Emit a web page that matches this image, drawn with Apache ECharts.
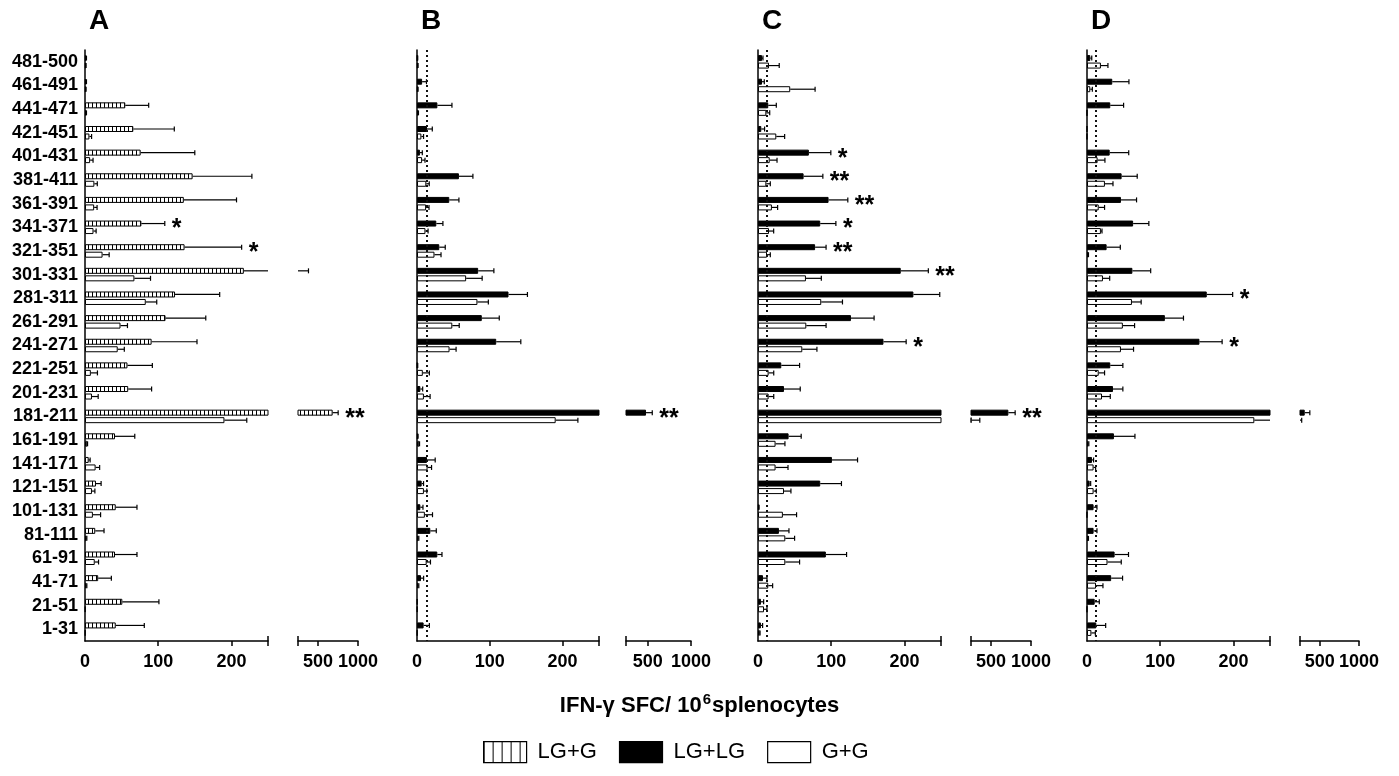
<!DOCTYPE html>
<html>
<head>
<meta charset="utf-8">
<title>IFN-gamma SFC</title>
<script src="https://cdn.jsdelivr.net/npm/echarts@6/dist/echarts.min.js"></script>
<style>
  html, body { margin: 0; padding: 0; background: #fff; }
  #chart { width: 1399px; height: 776px; }
</style>
</head>
<body>
<div id="chart"></div>
<script>
// peptide pools, top to bottom
var categories = ['481-500', '461-491', '441-471', '421-451', '401-431', '381-411', '361-391', '341-371',
  '321-351', '301-331', '281-311', '261-291', '241-271', '221-251', '201-231', '181-211', '161-191',
  '141-171', '121-151', '101-131', '81-111', '61-91', '41-71', '21-51', '1-31'];

// panel A: LG+G
var lgG_A = [1, 1, 55, 66, 76, 147, 135, 77, 136, 217, 123, 110, 91, 58, 59, 683, 41, 5, 15, 42, 14, 41, 18, 51, 42];
var lgG_A_err = [1, 1, 32, 56, 74, 81, 72, 32, 78, 164, 61, 55, 62, 34, 32, 69, 27, 2, 7, 29, 12, 30, 18, 50, 39];
// G+G control shared by panels A and B
var gg_AB = [1, 1, 1.5, 6, 7, 12.8, 12.5, 11.6, 24, 67.5, 83, 48.5, 44.7, 8, 9.5, 190.5, 3, 14.5, 9.5, 10.8, 2, 13.3, 2, 0.5, 0.5];
var gg_AB_err = [0.5, 0.5, 0.5, 3, 4, 4, 4, 3.6, 9, 22, 15, 9.5, 9, 9, 8.5, 30.5, 0.5, 5.5, 4, 10.5, 0.5, 5.2, 0.5, 0, 0];
// panel B: LG+LG
var lgLG_B = [0.5, 7, 28, 13.7, 4, 57.6, 44.3, 26.5, 30.6, 84, 125.7, 89, 108.8, 0.5, 4.6, 481, 1, 13.7, 6.4, 4.6, 18.3, 27.9, 5.5, 0.5, 9.1];
var lgLG_B_err = [0.5, 6, 20, 7.3, 3.3, 19.2, 13.3, 9.1, 8.2, 21.6, 26, 24, 33.8, 0.5, 3.2, 72, 0.5, 11.3, 2.6, 3.6, 8.2, 6.4, 3.6, 0, 7.9];
// panel C
var lgLG_C = [5.5, 5.5, 14, 4.5, 69.5, 62.3, 96.4, 85, 78, 195, 212.3, 127, 171.4, 31.8, 35.5, 717, 41.8, 101, 85, 1, 28.6, 92.7, 6.8, 4, 4];
var lgLG_C_err = [1.3, 3.1, 11, 4.5, 30, 26.3, 26.3, 21.4, 15, 37.7, 36, 31.6, 31, 25, 22.2, 85, 17.2, 35, 29, 0.5, 13.7, 28.3, 5.5, 3.7, 2.3];
var gg_C = [15, 44, 11.4, 25, 16, 11.4, 19, 15, 12.3, 65.5, 86.4, 66, 60.5, 14.5, 14.5, 258, 24, 24, 35.5, 34, 37.3, 37.3, 14, 8.2, 2.3];
var gg_C_err = [14, 34, 4.6, 11.4, 10, 5.4, 7.8, 6.4, 4.5, 21, 29, 27, 20, 7, 7, 102, 12.8, 17, 9.5, 18.7, 12.7, 19.5, 6, 4.1, 0.5];
// panel D
var lgLG_D = [4.5, 34.5, 31.8, 0, 31, 47.3, 46.4, 63, 26.8, 62, 163.6, 106.4, 153.6, 31.8, 35.5, 310, 36.8, 6.8, 3.6, 9, 9, 37.7, 33, 10.5, 12.7];
var lgLG_D_err = [2, 22.8, 18.2, 0, 26, 21.3, 21.3, 21.5, 18.7, 25, 35.4, 25.4, 31, 17.2, 13.5, 65, 28.7, 2.2, 1.4, 4.6, 4.6, 19, 15.6, 6.3, 12.8];
var gg_D = [19, 4.5, 0, 0, 14.5, 24.5, 16, 19, 1.5, 21.8, 61.4, 49, 46.4, 16, 20.5, 228.6, 2, 9, 9, 0, 1.5, 28, 12.3, 0, 6];
var gg_D_err = [9.6, 2.8, 0, 0, 10, 11, 8, 1.5, 0.5, 9.2, 12.6, 16, 17.2, 8, 11.3, 43, 0.5, 2.8, 3.7, 0, 0.5, 18.8, 9.5, 0, 5.4];

// significance marks
var starsA = [['341-371', '*'], ['321-351', '*'], ['181-211', '**']];
var starsB = [['181-211', '**']];
var starsC = [['401-431', '*'], ['381-411', '**'], ['361-391', '**'], ['341-371', '*'], ['321-351', '**'],
  ['301-331', '**'], ['241-271', '*'], ['181-211', '**']];
var starsD = [['281-311', '*'], ['241-271', '*']];

// positivity cut-off (dotted line)
var cutoffs = { A: null, B: 13, C: 12, D: 12 };

// broken x axis
var leftMax = 250, rightMax = 1000;
var leftTicks = [0, 100, 200];
var rightTicks = [500, 1000];

var FONT = 'Liberation Sans';
var LANE = 3.75;

function makeHatch(step) {
  var c = document.createElement('canvas');
  c.width = step; c.height = 10;
  var ctx = c.getContext('2d');
  ctx.fillStyle = '#fff';
  ctx.fillRect(0, 0, step, 10);
  ctx.fillStyle = '#000';
  ctx.fillRect(0, 0, 1, 10);
  return c;
}
var hatchBar = { image: makeHatch(4), repeat: 'repeat' };
var hatchLegend = { image: makeHatch(9), repeat: 'repeat' };

var panels = [
  { key: 'A', left: 85, w: 183, rLeft: 298, rW: 60, top: { name: 'LG+G', v: lgG_A, e: lgG_A_err }, bot: { v: gg_AB, e: gg_AB_err }, stars: starsA },
  { key: 'B', left: 417, w: 182, rLeft: 626, rW: 65, top: { name: 'LG+LG', v: lgLG_B, e: lgLG_B_err }, bot: { v: gg_AB, e: gg_AB_err }, stars: starsB },
  { key: 'C', left: 758, w: 183, rLeft: 971, rW: 60, top: { name: 'LG+LG', v: lgLG_C, e: lgLG_C_err }, bot: { v: gg_C, e: gg_C_err }, stars: starsC },
  { key: 'D', left: 1087, w: 183, rLeft: 1300, rW: 59, top: { name: 'LG+LG', v: lgLG_D, e: lgLG_D_err }, bot: { v: gg_D, e: gg_D_err }, stars: starsD }
];

var styles = {
  'LG+G': { color: hatchBar, borderColor: '#000', borderWidth: 1 },
  'LG+LG': { color: '#000', borderColor: '#000', borderWidth: 1 },
  'G+G': { color: '#fff', borderColor: '#000', borderWidth: 1 }
};

var grids = [], xAxes = [], yAxes = [], series = [], titles = [];

function errorSeries(g, p) {
  var items = [];
  var starMap = {};
  p.stars.forEach(function (s) { starMap[s[0]] = s[1]; });
  categories.forEach(function (c, i) {
    items.push({ value: [i, p.top.v[i], p.top.e[i], 0], star: starMap[c] || '' });
    items.push({ value: [i, p.bot.v[i], p.bot.e[i], 1], star: '' });
  });
  return {
    type: 'custom', name: 'err' + g, xAxisIndex: g, yAxisIndex: g, silent: true, z: 3,
    data: items,
    renderItem: function (params, api) {
      var cs = params.coordSys;
      var cat = api.value(0), m = api.value(1), e = api.value(2), lane = api.value(3);
      var p0 = api.coord([m, cat]);
      var p1 = api.coord([m + e, cat]);
      var y = p0[1] + (lane === 0 ? -LANE : LANE);
      var xl = Math.max(p0[0], cs.x), xr = Math.min(p1[0], cs.x + cs.width);
      var endIn = p1[0] >= cs.x && p1[0] <= cs.x + cs.width + 0.5;
      var kids = [];
      var ls = { stroke: '#000', lineWidth: 1.2 };
      if (e > 0 && xr > xl) {
        kids.push({ type: 'line', shape: { x1: xl, y1: y, x2: xr, y2: y }, style: ls });
      }
      if (e > 0 && endIn) {
        kids.push({ type: 'line', shape: { x1: p1[0], y1: y - 2.5, x2: p1[0], y2: y + 2.5 }, style: ls });
      }
      var star = items[params.dataIndex].star;
      if (star && endIn) {
        kids.push({ type: 'text', style: { x: p1[0] + 7, y: y + 6, text: star, fill: '#000',
          font: 'bold 25px ' + FONT, textAlign: 'left', textVerticalAlign: 'middle' } });
      }
      return { type: 'group', children: kids };
    }
  };
}

function capSeries(g, atRight) {
  return {
    type: 'custom', name: 'cap' + g, xAxisIndex: g, yAxisIndex: g, silent: true,
    data: [[0, 0]],
    renderItem: function (params) {
      var cs = params.coordSys;
      var x = atRight ? cs.x + cs.width : cs.x;
      var yb = cs.y + cs.height;
      return { type: 'line', shape: { x1: x, y1: yb - 5, x2: x, y2: yb + 5 }, style: { stroke: '#000', lineWidth: 1.5 } };
    }
  };
}

panels.forEach(function (p, pi) {
  titles.push({ text: p.key, left: p.left - 1, top: 2, textStyle: { fontSize: 28, fontWeight: 'bold', color: '#000', fontFamily: FONT } });
  [0, 1].forEach(function (seg) {
    var g = pi * 2 + seg;
    grids.push({ left: seg ? p.rLeft : p.left, width: seg ? p.rW : p.w, top: 50, height: 591 });
    xAxes.push({
      gridIndex: g, type: 'value',
      min: seg ? leftMax : 0, max: seg ? rightMax : leftMax,
      axisLine: { show: true, lineStyle: { color: '#000', width: 1.5 } },
      axisTick: { show: true, length: 5, customValues: seg ? rightTicks : leftTicks.slice(1), lineStyle: { color: '#000', width: 1.5 } },
      axisLabel: {
        customValues: seg ? rightTicks : leftTicks, fontSize: 18, fontWeight: 'bold', color: '#000', fontFamily: FONT, margin: 12,
        formatter: function (v) { return String(v); }
      },
      splitLine: { show: false }
    });
    yAxes.push({
      gridIndex: g, type: 'category', inverse: true, data: categories,
      show: seg === 0,
      axisLine: { show: true, lineStyle: { color: '#000', width: 1.5 } },
      axisTick: { show: false },
      axisLabel: { show: pi === 0, fontSize: 18, fontWeight: 'bold', color: '#000', fontFamily: FONT, margin: 7 },
      splitLine: { show: false }
    });
    series.push({
      type: 'bar', name: p.top.name, xAxisIndex: g, yAxisIndex: g, data: p.top.v,
      barWidth: 6, barGap: '25%', itemStyle: styles[p.top.name], silent: true
    });
    var white = {
      type: 'bar', name: 'G+G', xAxisIndex: g, yAxisIndex: g, data: p.bot.v,
      barWidth: 6, barGap: '25%', itemStyle: styles['G+G'], silent: true
    };
    if (seg === 0 && cutoffs[p.key] != null) {
      white.markLine = {
        silent: true, symbol: 'none', label: { show: false },
        lineStyle: { type: [2, 3], color: '#111', width: 2 },
        data: [{ xAxis: cutoffs[p.key] }]
      };
    }
    series.push(white);
    series.push(errorSeries(g, p));
    series.push(capSeries(g, seg === 0));
  });
});

titles.push({
  text: '{a|IFN-γ SFC/ 10}{s|6}{a|splenocytes}',
  left: 'center', top: 687,
  textStyle: {
    rich: {
      a: { fontSize: 22, fontWeight: 'bold', color: '#000', fontFamily: FONT },
      s: { fontSize: 15, fontWeight: 'bold', color: '#000', fontFamily: FONT, padding: [0, 1, 12, 1] }
    }
  }
});

var chart = echarts.init(document.getElementById('chart'));
chart.setOption({
  animation: false,
  textStyle: { fontFamily: FONT },
  title: titles,
  grid: grids,
  xAxis: xAxes,
  yAxis: yAxes,
  legend: {
    left: 478, top: 736,
    itemWidth: 43, itemHeight: 21, itemGap: 22, icon: 'rect',
    textStyle: { fontSize: 22, color: '#000', fontFamily: FONT, padding: [0, 0, 0, 6] },
    selectedMode: false,
    data: [
      { name: 'LG+G', itemStyle: { color: hatchLegend, borderColor: '#000', borderWidth: 1.2 } },
      { name: 'LG+LG', itemStyle: { color: '#000', borderColor: '#000', borderWidth: 1.2 } },
      { name: 'G+G', itemStyle: { color: '#fff', borderColor: '#000', borderWidth: 1.2 } }
    ]
  },
  series: series
});
</script>
</body>
</html>
